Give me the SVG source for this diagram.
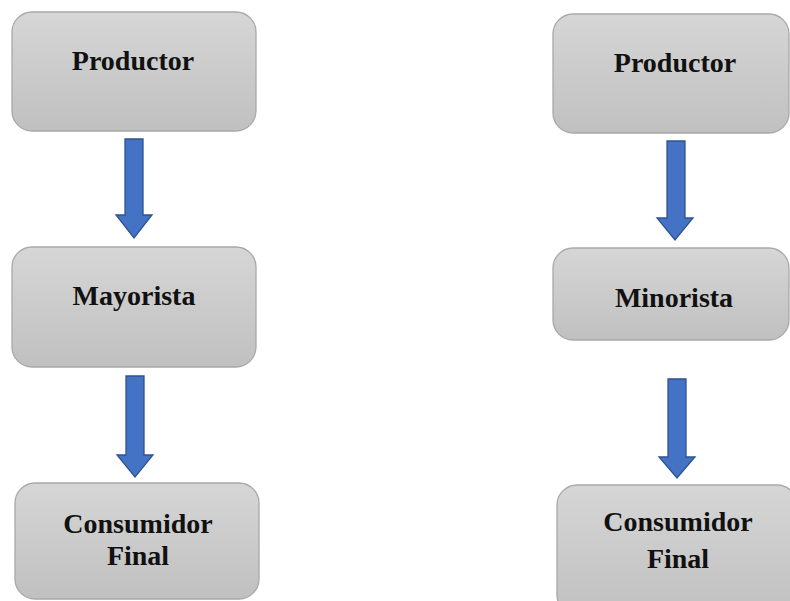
<svg xmlns="http://www.w3.org/2000/svg" width="790" height="601" viewBox="0 0 790 601">
  <defs>
    <linearGradient id="boxFill" x1="0" y1="0" x2="0" y2="1">
      <stop offset="0" stop-color="#d6d6d6"/>
      <stop offset="1" stop-color="#c0c0c0"/>
    </linearGradient>
    <style>
      .box { fill: url(#boxFill); stroke: #a8a8a8; stroke-width: 1.3; }
      .lbl { font-family: "Liberation Serif", "Times New Roman", serif; font-weight: bold; font-size: 28px; fill: #111; text-anchor: middle; }
      .arrow { fill: #4472c4; stroke: #2f528f; stroke-width: 1.3; stroke-linejoin: miter; }
    </style>
  </defs>
  <rect width="790" height="601" fill="#ffffff"/>

  <!-- left chain -->
  <g id="productor-left">
    <rect class="box" x="12" y="12" width="244" height="119" rx="20"/>
    <text class="lbl" x="133" y="70">Productor</text>
  </g>
  <g id="mayorista">
    <rect class="box" x="12" y="247" width="244" height="120" rx="20"/>
    <text class="lbl" x="134" y="305">Mayorista</text>
  </g>
  <g id="consumidor-left">
    <rect class="box" x="15" y="483" width="244" height="116" rx="20"/>
    <text class="lbl" x="138" y="533">Consumidor</text>
    <text class="lbl" x="138" y="565">Final</text>
  </g>

  <!-- right chain -->
  <g id="productor-right">
    <rect class="box" x="553" y="14" width="236" height="119" rx="20"/>
    <text class="lbl" x="675" y="72">Productor</text>
  </g>
  <g id="minorista">
    <rect class="box" x="553" y="248" width="236" height="92" rx="20"/>
    <text class="lbl" x="674" y="307">Minorista</text>
  </g>
  <g id="consumidor-right">
    <rect class="box" x="557" y="485" width="240" height="130" rx="20"/>
    <text class="lbl" x="678" y="531">Consumidor</text>
    <text class="lbl" x="678" y="568">Final</text>
  </g>

  <!-- connectors: block arrows -->
  <g id="connectors">
    <path class="arrow" d="M125,139 H143 V215 H152 L134,238 L116,215 H125 Z"/>
    <path class="arrow" d="M126,376 H144 V455 H153 L135,477 L117,455 H126 Z"/>
    <path class="arrow" d="M667,141 H685 V218 H693 L675,240 L657,218 H667 Z"/>
    <path class="arrow" d="M668,379 H686 V457 H695 L677,478 L659,457 H668 Z"/>
  </g>
</svg>
